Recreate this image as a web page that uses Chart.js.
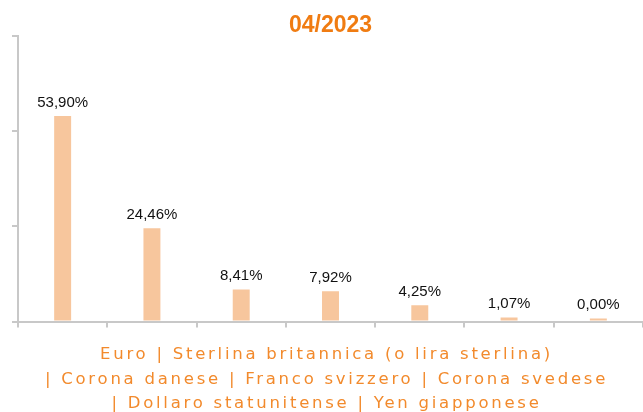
<!DOCTYPE html>
<html>
<head>
<meta charset="utf-8">
<script src="https://cdn.jsdelivr.net/npm/chart.js@4"></script>
<style>
    html, body { margin: 0; padding: 0; background: #fff; overflow: hidden; }
    #wrap { position: relative; width: 643px; height: 418px; }
</style>
</head>
<body>
<div id="wrap"><canvas id="currencyChart"></canvas></div>
<script>
// Chart data
const categories = ['Euro', 'Sterlina britannica (o lira sterlina)', 'Corona danese', 'Franco svizzero', 'Corona svedese', 'Dollaro statunitense', 'Yen giapponese'];
const shares = [53.90, 24.46, 8.41, 7.92, 4.25, 1.07, 0.00];
const yTicks = [0, 25, 50, 75];
const axisTitleLines = [
    'Euro | Sterlina britannica (o lira sterlina)',
    '| Corona danese | Franco svizzero | Corona svedese',
    '| Dollaro statunitense | Yen giapponese'
];

const axisGrey = '#c8c8c8';
const orange = '#f28a2c';
const titleFont = '16.5px "DejaVu Sans", Verdana, sans-serif';
const titleLineHeight = 24.5;

// value labels above bars
const barLabels = {
    id: 'barLabels',
    afterDatasetsDraw(chart) {
        const ctx = chart.ctx;
        const meta = chart.getDatasetMeta(0);
        ctx.save();
        ctx.font = '15px "Liberation Sans", Arial, sans-serif';
        ctx.fillStyle = '#111';
        ctx.textAlign = 'center';
        ctx.textBaseline = 'bottom';
        meta.data.forEach((bar, i) => {
            const txt = shares[i].toFixed(2).replace('.', ',') + '%';
            ctx.fillText(txt, bar.x, bar.y - 6);
        });
        ctx.restore();
    }
};

// x axis caption, spaced out like the original
const axisCaption = {
    id: 'axisCaption',
    afterDraw(chart) {
        const ctx = chart.ctx;
        const xs = chart.scales.x;
        const cx = (xs.left + xs.right) / 2;
        ctx.save();
        ctx.font = titleFont;
        ctx.letterSpacing = '2.75px';
        ctx.fillStyle = orange;
        ctx.textAlign = 'center';
        ctx.textBaseline = 'middle';
        axisTitleLines.forEach((line, i) => {
            ctx.fillText(line, cx - 4, xs.top + 33.5 + i * titleLineHeight);
        });
        ctx.restore();
    }
};

new Chart(document.getElementById('currencyChart'), {
    type: 'bar',
    data: {
        labels: categories,
        datasets: [{
            data: shares,
            backgroundColor: '#f7c69d',
            borderWidth: 0,
            barPercentage: 0.19,
            categoryPercentage: 1,
            minBarLength: 3
        }]
    },
    options: {
        animation: false,
        responsive: true,
        maintainAspectRatio: false,
        layout: { padding: { left: 12, right: 0, top: 0, bottom: 0 } },
        plugins: {
            legend: { display: false },
            tooltip: { enabled: false },
            title: {
                display: true,
                text: '04/2023',
                color: '#f07c12',
                fullSize: false,
                font: { family: '"Liberation Sans", Arial, sans-serif', size: 23, weight: 'bold', lineHeight: 0.9 },
                padding: { top: 15, bottom: 0 }
            }
        },
        scales: {
            x: {
                grid: { drawOnChartArea: false, color: axisGrey, lineWidth: 2, tickLength: 6, offset: true },
                border: { color: axisGrey, width: 2 },
                ticks: { display: false },
                // reserves the room; the text itself is drawn by axisCaption
                title: {
                    display: true,
                    text: axisTitleLines,
                    color: 'rgba(0,0,0,0)',
                    font: { family: '"DejaVu Sans", Verdana, sans-serif', size: 16, lineHeight: 1.53 },
                    padding: { top: 17, bottom: 0 }
                }
            },
            y: {
                min: 0,
                max: 75,
                afterBuildTicks: axis => { axis.ticks = yTicks.map(v => ({ value: v })); },
                grid: { drawOnChartArea: false, color: axisGrey, lineWidth: 2, tickLength: 6 },
                border: { color: axisGrey, width: 2 },
                ticks: { display: false }
            }
        }
    },
    plugins: [barLabels, axisCaption]
});
</script>
</body>
</html>
